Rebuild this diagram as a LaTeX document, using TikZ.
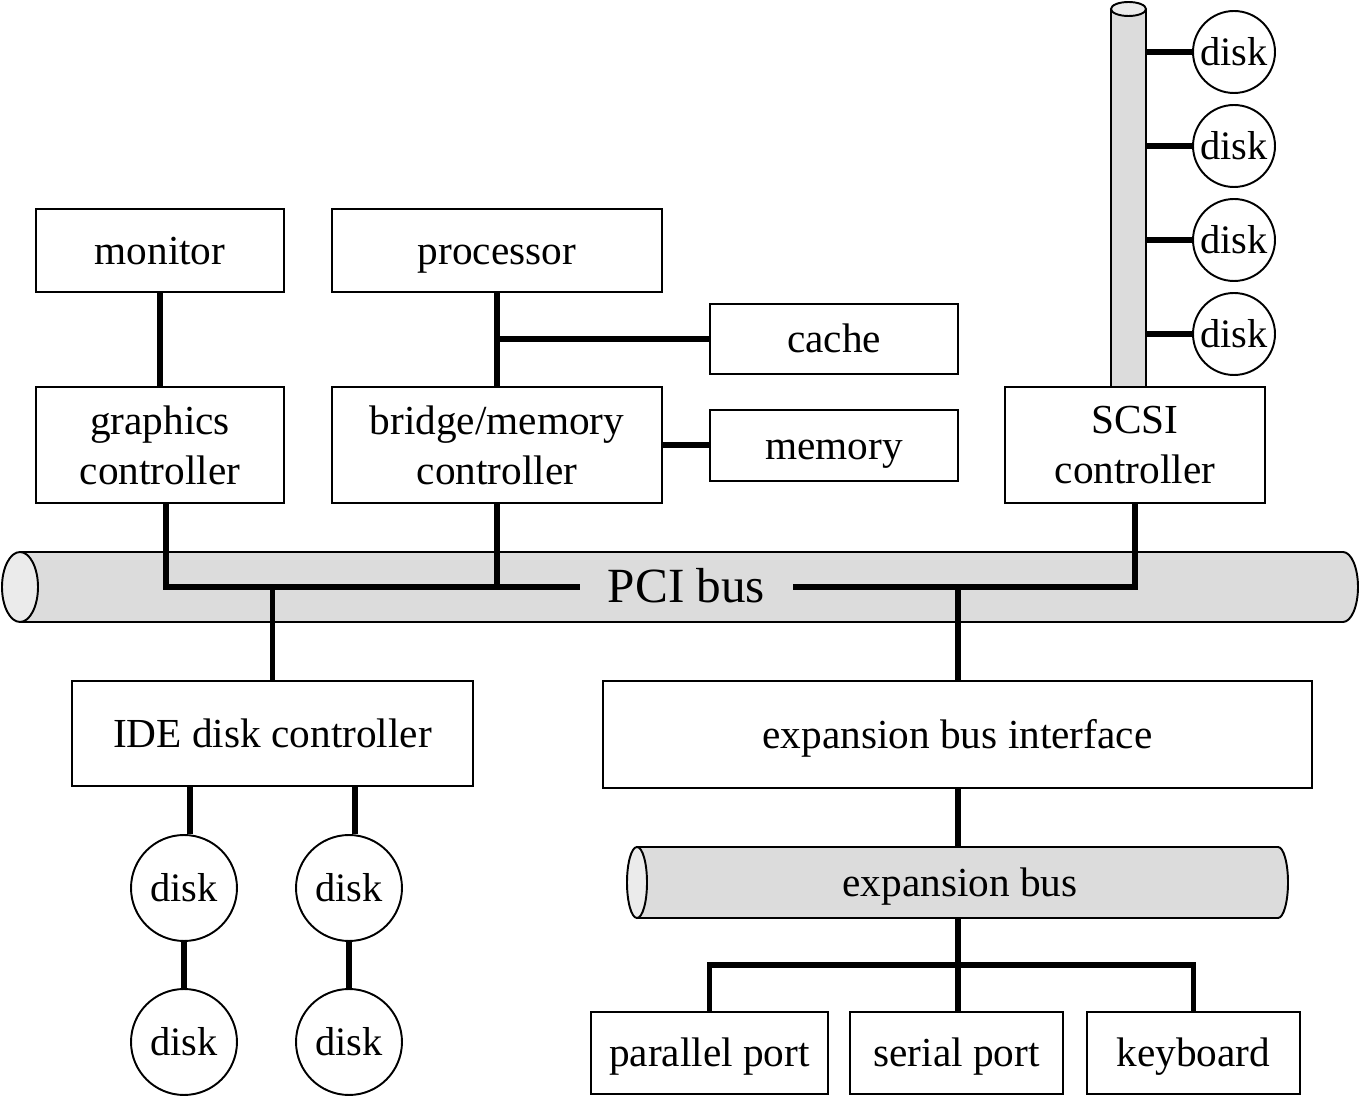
\documentclass[tikz,border=0pt]{standalone}
\usepackage{fontspec}
\setmainfont{Liberation Serif}
\definecolor{busgray}{RGB}{220,220,220}
\definecolor{endgray}{RGB}{235,235,235}
\begin{document}
\begin{tikzpicture}[x=0.02cm, y=0.02cm,
  box/.style={draw=black, line width=1.1pt, fill=white, inner sep=0pt, align=center,
    font=\fontsize{23.5}{28.5}\selectfont},
  oneline/.style={text height=18pt, text depth=2.5pt},
  disk/.style={draw=black, line width=1.1pt, fill=white, circle, inner sep=0pt,
    font=\fontsize{23}{28}\selectfont, text height=18pt, text depth=2.5pt},
  link/.style={draw=black, line width=3pt},
  bus/.style={draw=black, line width=1.1pt, fill=busgray},
  busend/.style={draw=black, line width=1.1pt, fill=endgray}]
\useasboundingbox (0,0) rectangle (1360,-1104);
\draw [bus] (20,-552) -- (1343,-552) arc (90:-90:15 and 35) -- (20,-622) -- cycle;
\draw [busend] (20,-587) ellipse (18 and 35);
\draw [bus] (637,-847) -- (1278,-847) arc (90:-90:10 and 35.5) -- (637,-918) -- cycle;
\draw [busend] (637,-882.5) ellipse (10 and 35.5);
\draw [bus] (1111,-9) -- (1111,-387) -- (1146,-387) -- (1146,-9);
\draw [busend] (1128.5,-9) ellipse (17.5 and 7);
\node [box, oneline, minimum width=4.96cm, minimum height=1.66cm] (monitor) at (160,-250.5) {monitor};
\node [box, oneline, minimum width=6.6cm, minimum height=1.66cm] (processor) at (497,-250.5) {processor};
\node [box, oneline, minimum width=4.96cm, minimum height=1.4cm] (cache) at (834,-339) {cache};
\node [box, oneline, minimum width=4.96cm, minimum height=1.42cm] (memory) at (834,-445.5) {memory};
\node [box, minimum width=4.96cm, minimum height=2.32cm] (graphics) at (160,-445) {graphics\\controller};
\node [box, minimum width=6.6cm, minimum height=2.32cm] (bridge) at (497,-445) {bridge/memory\\controller};
\node [box, minimum width=5.2cm, minimum height=2.32cm] (scsi) at (1135,-445) {SCSI\\controller};
\node [inner sep=0pt, minimum width=4.26cm, text height=21pt, text depth=3.4pt,
  font=\fontsize{28}{33}\selectfont] (pci) at (686.5,-587) {PCI bus};
\node [inner sep=0pt, oneline, font=\fontsize{23.5}{28.5}\selectfont] (ebus) at (960,-882.5) {expansion bus};
\node [box, oneline, minimum width=8.02cm, minimum height=2.1cm] (ide) at (272.5,-733.5) {IDE disk controller};
\node [box, oneline, minimum width=14.18cm, minimum height=2.14cm] (ebi) at (957.5,-734.5) {expansion bus interface};
\node [box, oneline, minimum width=4.74cm, minimum height=1.64cm] (parallel) at (709.5,-1053) {parallel port};
\node [box, oneline, minimum width=4.26cm, minimum height=1.64cm] (serial) at (956.5,-1053) {serial port};
\node [box, oneline, minimum width=4.26cm, minimum height=1.64cm] (keyboard) at (1193.5,-1053) {keyboard};
\node [disk, minimum size=2.12cm] (d1) at (184,-888) {disk};
\node [disk, minimum size=2.12cm] (d2) at (349,-888) {disk};
\node [disk, minimum size=2.12cm] (d3) at (184,-1042) {disk};
\node [disk, minimum size=2.12cm] (d4) at (349,-1042) {disk};
\coordinate (ebustop) at (958,-847);
\coordinate (ebusbot) at (958,-918);
\coordinate (tap) at (958,-965);
\draw [link] (monitor) -- (graphics);
\draw [link] (processor) -- (bridge);
\draw [link] (bridge.north |- cache.west) -- (cache.west);
\draw [link] (bridge.east) -- (bridge.east -| memory.west);
\draw [link] ([xshift=0.12cm]graphics.south) |- (pci.west);
\draw [link] (bridge.south) -- (bridge.south |- pci.west);
\draw [link] (pci.east) -| (scsi.south);
\draw [link] (ide.north |- pci) -- (ide.north);
\draw [link] (ebustop |- pci) -- (ebustop |- ebi.north);
\draw [link] (ebustop |- ebi.south) -- (ebustop);
\draw [link] (ebusbot) -- (tap);
\draw [link] (parallel.north) |- (tap) -| (keyboard.north);
\draw [link] (tap) -- (tap |- serial.north);
\draw [link] ([xshift=0.12cm]d1.north |- ide.south) -- ([xshift=0.12cm]d1.north);
\draw [link] ([xshift=0.12cm]d2.north |- ide.south) -- ([xshift=0.12cm]d2.north);
\draw [link] (d1) -- (d3);
\draw [link] (d2) -- (d4);
\foreach \y [count=\i] in {52,146,240,334} {
  \node [disk, minimum size=1.64cm] (sd\i) at (1234,-\y) {disk};
  \draw [link] (sd\i.west) -- (1146,-\y);
}
\end{tikzpicture}
\end{document}
